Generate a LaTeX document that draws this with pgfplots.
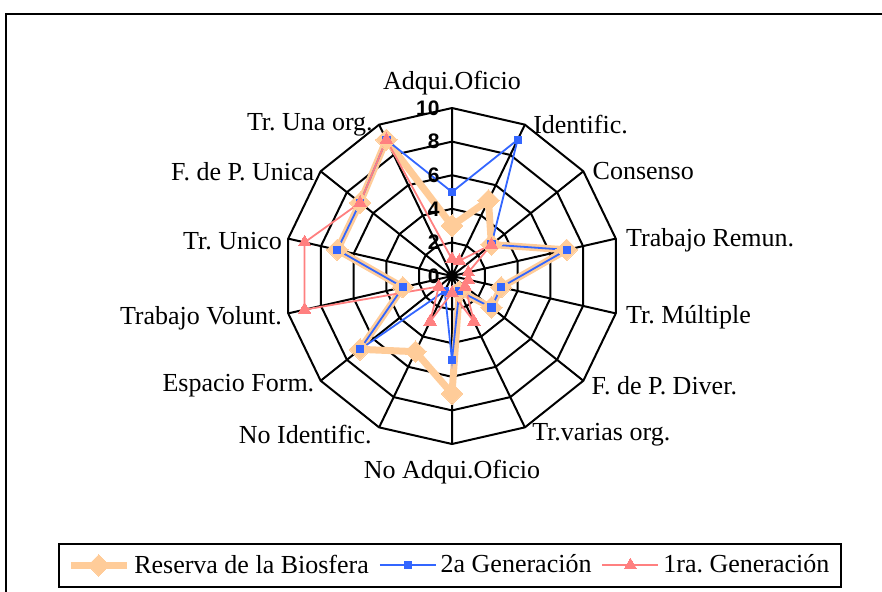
\documentclass[border=0pt]{standalone}
\usepackage{fontspec}
\setmainfont{Liberation Serif}
\newfontfamily\arialf{Liberation Sans}
\usepackage{pgfplots}
\pgfplotsset{compat=1.18}
\usepgfplotslibrary{polar}
\definecolor{cRES}{HTML}{FFCC99}
\definecolor{cGEN2}{HTML}{3366FF}
\definecolor{cGEN1}{HTML}{FF8080}
\pgfplotsset{
  gridline/.style={black, line width=1pt, forget plot, mark=none},
}
\tikzset{
  catlabel/.style={font=\fontsize{13}{15}\selectfont, inner sep=0pt},
  ticklab/.style={font=\arialf\bfseries\fontsize{10.5}{12}\selectfont, anchor=east, inner sep=0pt, xshift=-6pt},
}
\frenchspacing

\begin{document}
\begin{tikzpicture}
\begin{polaraxis}[
    scale only axis, width=168pt, height=168pt,
    xmin=0, xmax=360, ymin=0, ymax=10,
    hide axis, grid=none, xtick=\empty, ytick=\empty,
    clip=false,
    legend columns=3,
    legend style={at={(0.495,-0.294)}, anchor=north, draw=black, line width=0.9pt,
                  font=\fontsize{13}{15}\selectfont, inner ysep=3.5pt, inner xsep=4pt,
                  /tikz/every even column/.append style={column sep=3pt}},
    legend image code/.code={\draw[mark repeat=2,mark phase=2,#1] plot coordinates {(0pt,0pt) (14pt,0pt) (28pt,0pt)};},
]
% rings at 2,4,6,8,10
\addplot[gridline] coordinates {(90,2)(64.2857,2)(38.5714,2)(12.8571,2)(347.1429,2)(321.4286,2)(295.7143,2)(270,2)(244.2857,2)(218.5714,2)(192.8571,2)(167.1429,2)(141.4286,2)(115.7143,2)(90,2)};
\addplot[gridline] coordinates {(90,4)(64.2857,4)(38.5714,4)(12.8571,4)(347.1429,4)(321.4286,4)(295.7143,4)(270,4)(244.2857,4)(218.5714,4)(192.8571,4)(167.1429,4)(141.4286,4)(115.7143,4)(90,4)};
\addplot[gridline] coordinates {(90,6)(64.2857,6)(38.5714,6)(12.8571,6)(347.1429,6)(321.4286,6)(295.7143,6)(270,6)(244.2857,6)(218.5714,6)(192.8571,6)(167.1429,6)(141.4286,6)(115.7143,6)(90,6)};
\addplot[gridline] coordinates {(90,8)(64.2857,8)(38.5714,8)(12.8571,8)(347.1429,8)(321.4286,8)(295.7143,8)(270,8)(244.2857,8)(218.5714,8)(192.8571,8)(167.1429,8)(141.4286,8)(115.7143,8)(90,8)};
\addplot[gridline] coordinates {(90,10)(64.2857,10)(38.5714,10)(12.8571,10)(347.1429,10)(321.4286,10)(295.7143,10)(270,10)(244.2857,10)(218.5714,10)(192.8571,10)(167.1429,10)(141.4286,10)(115.7143,10)(90,10)};
% spokes
\addplot[gridline] coordinates {(90,10)(0,0)(64.2857,10)(0,0)(38.5714,10)(0,0)(12.8571,10)(0,0)(347.1429,10)(0,0)(321.4286,10)(0,0)(295.7143,10)(0,0)(270,10)(0,0)(244.2857,10)(0,0)(218.5714,10)(0,0)(192.8571,10)(0,0)(167.1429,10)(0,0)(141.4286,10)(0,0)(115.7143,10)};

% Reserva de la Biosfera
\addplot[cRES, line width=3.5pt, line join=round, mark=square*, mark size=3.8pt,
         mark options={rotate=45, solid, line width=0pt, fill=cRES}] coordinates {
  (90,3)(64.2857,5)(38.5714,3)(12.8571,7)(347.1429,3)(321.4286,3)(295.7143,1)
  (270,7)(244.2857,5)(218.5714,7)(192.8571,3)(167.1429,7)(141.4286,7)(115.7143,9)(90,3)};
\addlegendentry{Reserva de la Biosfera}
% 2a Generacion
\addplot[cGEN2, line width=0.9pt, mark=square*, mark size=1.8pt, mark options={solid, line width=0pt}] coordinates {
  (90,5)(64.2857,9)(38.5714,3)(12.8571,7)(347.1429,3)(321.4286,3)(295.7143,1)
  (270,5)(244.2857,1)(218.5714,7)(192.8571,3)(167.1429,7)(141.4286,7)(115.7143,9)(90,5)};
\addlegendentry{2a Generación}
% 1ra Generacion
\addplot[cGEN1, line width=0.9pt, mark=triangle*, mark size=3.6pt, mark options={solid, line width=0pt}] coordinates {
  (90,1)(64.2857,1)(38.5714,3)(12.8571,1)(347.1429,1)(321.4286,1)(295.7143,3)
  (270,1)(244.2857,3)(218.5714,1)(192.8571,9)(167.1429,9)(141.4286,7)(115.7143,9)(90,1)};
\addlegendentry{1ra. Generación}

% radial tick labels
\node[ticklab] at (axis cs:90,0) {0};
\node[ticklab] at (axis cs:90,2) {2};
\node[ticklab] at (axis cs:90,4) {4};
\node[ticklab] at (axis cs:90,6) {6};
\node[ticklab] at (axis cs:90,8) {8};
\node[ticklab] at (axis cs:90,10) {10};

% category labels
\node[catlabel, anchor=base, yshift=9.5pt] at (axis cs:90,10) {Adqui.Oficio};
\node[catlabel, anchor=west, xshift=4pt] at (axis cs:64.2857,10) {Identific.};
\node[catlabel, anchor=west, xshift=4.5pt] at (axis cs:38.5714,10) {Consenso};
\node[catlabel, anchor=west, xshift=5pt, yshift=-1pt] at (axis cs:12.8571,10) {Trabajo Remun.};
\node[catlabel, anchor=west, xshift=5pt, yshift=-2pt] at (axis cs:347.1429,10) {Tr. Múltiple};
\node[catlabel, anchor=west, xshift=4pt, yshift=-2.5pt] at (axis cs:321.4286,10) {F. de P. Diver.};
\node[catlabel, anchor=west, xshift=3.5pt, yshift=-3.5pt] at (axis cs:295.7143,10) {Tr.varias org.};
\node[catlabel, anchor=base, yshift=-17pt] at (axis cs:270,10) {No Adqui.Oficio};
\node[catlabel, anchor=east, xshift=-3.5pt, yshift=-3.5pt] at (axis cs:244.2857,10) {No Identific.};
\node[catlabel, anchor=east, xshift=-3pt, yshift=-2.5pt] at (axis cs:218.5714,10) {Espacio Form.};
\node[catlabel, anchor=east, xshift=-3pt, yshift=-2.5pt] at (axis cs:192.8571,10) {Trabajo Volunt.};
\node[catlabel, anchor=east, xshift=-3pt, yshift=-1pt] at (axis cs:167.1429,10) {Tr. Unico};
\node[catlabel, anchor=east, xshift=-3pt] at (axis cs:141.4286,10) {F. de P. Unica};
\node[catlabel, anchor=east, xshift=-3pt] at (axis cs:115.7143,10) {Tr. Una org.};

\coordinate (O) at (axis cs:0,0);
\end{polaraxis}
\pgfresetboundingbox
\path[use as bounding box] ([shift={(-226pt,-157.5pt)}]O) rectangle ([shift={(215pt,138pt)}]O);
\clip ([shift={(-226pt,-157.5pt)}]O) rectangle ([shift={(215pt,138pt)}]O);
\draw[line width=1pt] ([shift={(-223pt,-175pt)}]O) rectangle ([shift={(240pt,131pt)}]O);
\end{tikzpicture}
\end{document}
